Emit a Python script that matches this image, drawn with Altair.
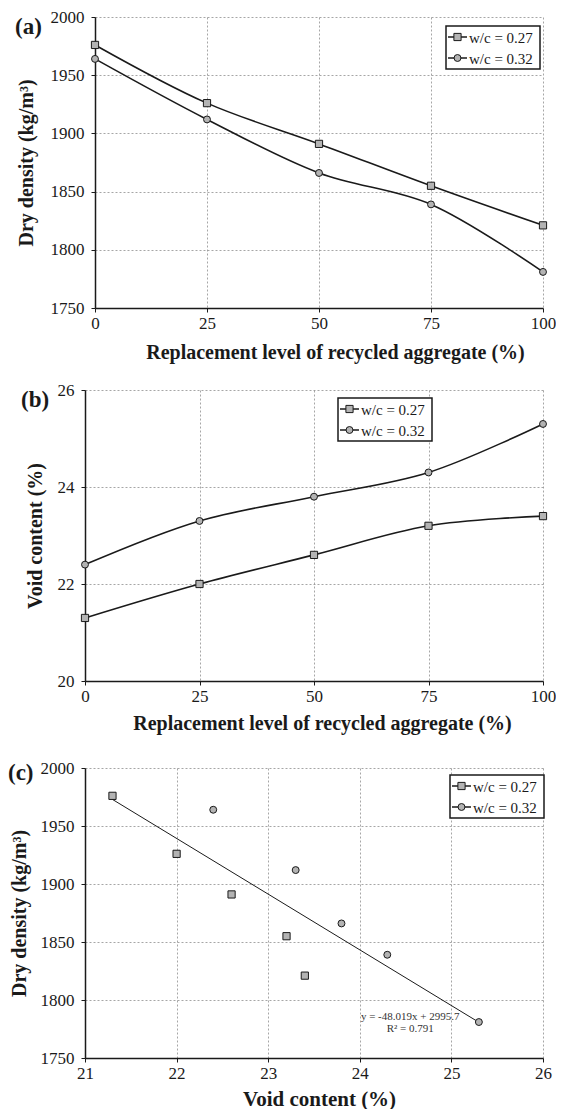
import altair as alt
import pandas as pd

# ---------------- data ----------------
replacement = [0, 25, 50, 75, 100]
series = ["w/c = 0.27", "w/c = 0.32"]
density_027 = [1976, 1926, 1891, 1855, 1821]
density_032 = [1964, 1912, 1866, 1839, 1781]
void_027 = [21.3, 22.0, 22.6, 23.2, 23.4]
void_032 = [22.4, 23.3, 23.8, 24.3, 25.3]

trend_void = [21.3, 25.3]
trend_density = [1972.9, 1780.8]
trend_text = ["y = -48.019x + 2995.7", "R\u00b2 = 0.791"]
trend_text_void = [24.55, 24.55]
trend_text_density = [1785, 1775]

panel_labels = ["(a)", "(b)", "(c)"]

x_ticks_rep = [0, 25, 50, 75, 100]
y_ticks_density = [1750, 1800, 1850, 1900, 1950, 2000]
y_ticks_void = [20, 22, 24, 26]
x_ticks_void = [21, 22, 23, 24, 25, 26]

rows = []
for s, dens, vd in [(series[0], density_027, void_027), (series[1], density_032, void_032)]:
    for r, d, v in zip(replacement, dens, vd):
        rows.append({"series": s, "replacement": r, "density": d, "void": v})
df = pd.DataFrame(rows)
trend_df = pd.DataFrame({"void": trend_void, "density": trend_density})
trend_txt_df = pd.DataFrame({"void": trend_text_void, "density": trend_text_density, "t": trend_text})
one_df = pd.DataFrame({"k": [0]})

# ---------------- style ----------------
FONT = "Liberation Serif"
INK = "#1a1a1a"
MFILL = "#b3b3b3"
SHAPES = ["square", "circle"]
SIZES = [52, 48]


def legend_layers(bx, by, bw=94, bh=43):
    """Boxed legend: line stub through a marker, then the series label."""
    out = [alt.Chart(one_df).mark_rect(fill="white", stroke=INK, strokeWidth=1.5)
           .encode(x=alt.value(bx), x2=alt.value(bx + bw), y=alt.value(by), y2=alt.value(by + bh))]
    for i, s in enumerate(series):
        ry = by + 11 + 21 * i
        sdf = pd.DataFrame({"t": [s]})
        out.append(alt.Chart(sdf).mark_rule(color=INK, strokeWidth=1.5)
                   .encode(x=alt.value(bx + 2), x2=alt.value(bx + 21), y=alt.value(ry)))
        out.append(alt.Chart(sdf).mark_point(shape=SHAPES[i], filled=True, fill=MFILL, stroke=INK,
                                             strokeWidth=1, size=SIZES[i], opacity=1)
                   .encode(x=alt.value(bx + 11.5), y=alt.value(ry)))
        out.append(alt.Chart(sdf).mark_text(font=FONT, fontSize=15, color=INK, align="left",
                                            baseline="middle")
                   .encode(text="t:N", x=alt.value(bx + 23), y=alt.value(ry + 1)))
    return out


def panel(label, xf, xdom, xrange, yoff, xvals, xtitle, xtitle_size, yf, ydom, yvals, ytitle, w, h,
          ytitle_x, xtitle_x, xtitle_y, lines, leg_xy, lab_xy, anchor, trend=False):
    base = alt.Chart(df)
    xenc = alt.X(f"{xf}:Q", scale=alt.Scale(domain=xdom, range=xrange, nice=False, zero=False),
                 axis=alt.Axis(values=xvals, format="d", title=xtitle, titleX=xtitle_x,
                               titleY=xtitle_y, titleAlign="center", titleBaseline="alphabetic",
                               labelPadding=3, titleFontSize=xtitle_size))
    yenc = alt.Y(f"{yf}:Q", scale=alt.Scale(domain=ydom, nice=False, zero=False),
                 axis=alt.Axis(values=yvals, format="d", title=ytitle, titleX=ytitle_x,
                               titleBaseline="bottom", labelPadding=7, titleFontSize=20,
                               offset=yoff))
    layers = []
    if lines:
        layers.append(base.mark_line(interpolate="catmull-rom", color=INK, strokeWidth=1.6)
                      .encode(x=xenc, y=yenc, detail="series:N"))
    if trend:
        layers.append(alt.Chart(trend_df).mark_line(color=INK, strokeWidth=1)
                      .encode(x=alt.X("void:Q"), y=alt.Y("density:Q")))
        layers.append(alt.Chart(trend_txt_df).mark_text(font=FONT, fontSize=11, color="#333",
                                                        align="center", baseline="middle")
                      .encode(x="void:Q", y="density:Q", text="t:N"))
    for i, s in enumerate(series):
        layers.append(base.transform_filter(alt.datum.series == s)
                      .mark_point(shape=SHAPES[i], filled=True, fill=MFILL, stroke=INK,
                                  strokeWidth=1, size=SIZES[i], opacity=1)
                      .encode(x=xenc, y=yenc))
    layers += legend_layers(*leg_xy)
    lab_df = pd.DataFrame({"t": [label]})
    layers.append(alt.Chart(lab_df).mark_text(font=FONT, fontSize=23, fontWeight="bold", color=INK,
                                               align="left", baseline="middle")
                  .encode(text="t:N", x=alt.value(lab_xy[0]), y=alt.value(lab_xy[1])))
    layers.append(alt.Chart(one_df).mark_rule(opacity=0, strokeOpacity=0)
                  .encode(x=alt.value(anchor[0]), x2=alt.value(anchor[0] + 1),
                          y=alt.value(anchor[1]), y2=alt.value(anchor[2])))
    return alt.layer(*layers).properties(width=w, height=h)


pa = panel(panel_labels[0], "replacement", [0, 100], [10, 458], -10, x_ticks_rep,
           "Replacement level of recycled aggregate (%)", 20, "density", [1750, 2000], y_ticks_density,
           "Dry density (kg/m\u00b3)", 458, 291, -59, 250, 50, True, (361, 9), (-70, 10),
           (-77, -7, 291 + 71.5))
pb = panel(panel_labels[1], "replacement", [0, 100], [0, 458], 0, x_ticks_rep,
           "Replacement level of recycled aggregate (%)", 20, "void", [20, 26], y_ticks_void,
           "Void content (%)", 458, 291, -40, 237, 48, True, (253, 8), (-64, 10),
           (-77, -10, 291 + 77))
pc = panel(panel_labels[2], "void", [21, 26], [0, 458], 0, x_ticks_void,
           "Void content  (%)", 21, "density", [1750, 2000], y_ticks_density,
           "Dry density (kg/m\u00b3)", 458, 290, -56, 234, 47, False, (365, 7), (-77, 5),
           (-77, -10, 290 + 50), trend=True)

chart = (
    alt.vconcat(pa, pb, pc, spacing=0)
    .properties(padding=0)
    .configure_view(stroke=None)
    .configure_axis(labelFont=FONT, labelFontSize=17, labelColor=INK, labelFlush=False,
                    labelOverlap=False, domainColor=INK, domainWidth=1.5, tickColor=INK,
                    tickSize=4, tickWidth=1, grid=True, gridColor="#8f8f8f", gridDash=[2, 2],
                    gridWidth=0.8, titleFont=FONT, titleFontWeight="bold", titleColor=INK)
)

chart.save("out.html", embed_options={"renderer": "svg", "actions": False})
